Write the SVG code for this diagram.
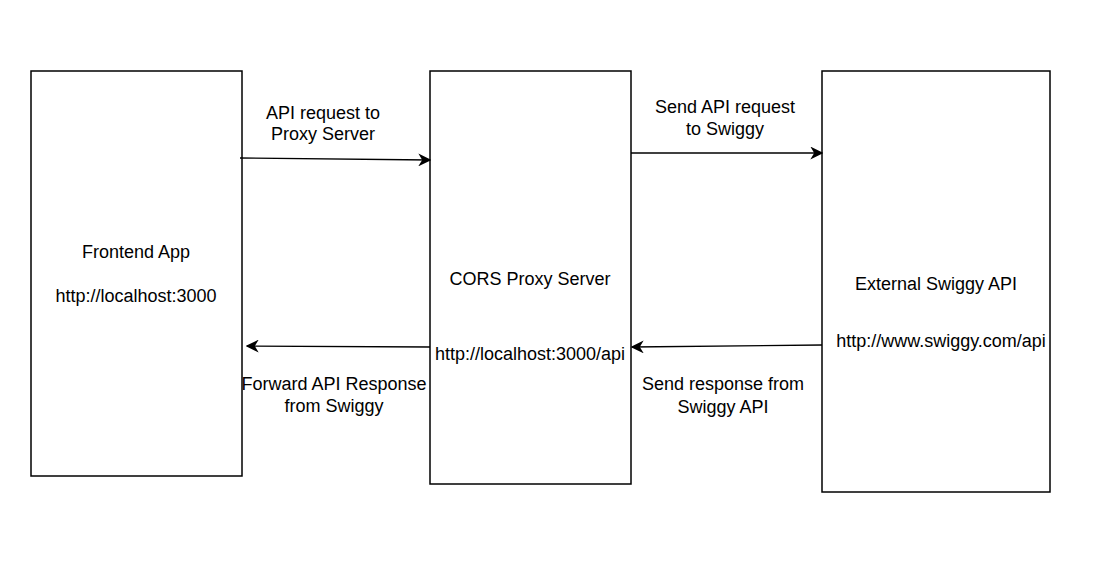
<svg xmlns="http://www.w3.org/2000/svg" width="1098" height="578" viewBox="0 0 1098 578">
<style>
.box{fill:#fff;stroke:#000;stroke-width:1.5}
.t{font-family:"Liberation Sans",Arial,sans-serif;font-size:18px;fill:#000;text-anchor:middle}
.c{stroke:#000;stroke-width:1.3;fill:none;marker-end:url(#ah)}
</style>
<defs>
<marker id="ah" viewBox="0 0 10 10" refX="9" refY="5" markerWidth="13" markerHeight="13" markerUnits="userSpaceOnUse" orient="auto">
<path d="M0,0 L10,5 L0,10 L3,5 Z" fill="#000"/>
</marker>
</defs>
<rect width="1098" height="578" fill="#fff"/>
<g id="frontend">
<rect class="box" x="31" y="71" width="211" height="405"/>
<text class="t" x="136" y="258">Frontend App</text>
<text class="t" x="136" y="302">http://localhost:3000</text>
</g>
<g id="proxy">
<rect class="box" x="430" y="71" width="201" height="413"/>
<text class="t" x="530" y="285">CORS Proxy Server</text>
<text class="t" x="530" y="360">http://localhost:3000/api</text>
</g>
<g id="swiggy">
<rect class="box" x="822" y="71" width="228" height="421"/>
<text class="t" x="936" y="290">External Swiggy API</text>
<text class="t" x="941" y="347">http://www.swiggy.com/api</text>
</g>
<g id="connectors">
<path class="c" d="M240,158 L430,160"/>
<path class="c" d="M631,153 L822,153"/>
<path class="c" d="M430,347 L247,346"/>
<path class="c" d="M822,345 L632,347"/>
<text class="t" x="323" y="119">API request to</text>
<text class="t" x="323" y="140">Proxy Server</text>
<text class="t" x="725" y="113">Send API request</text>
<text class="t" x="725" y="135">to Swiggy</text>
<text class="t" x="334" y="390">Forward API Response</text>
<text class="t" x="334" y="412">from Swiggy</text>
<text class="t" x="723" y="390">Send response from</text>
<text class="t" x="723" y="413">Swiggy API</text>
</g>
</svg>
